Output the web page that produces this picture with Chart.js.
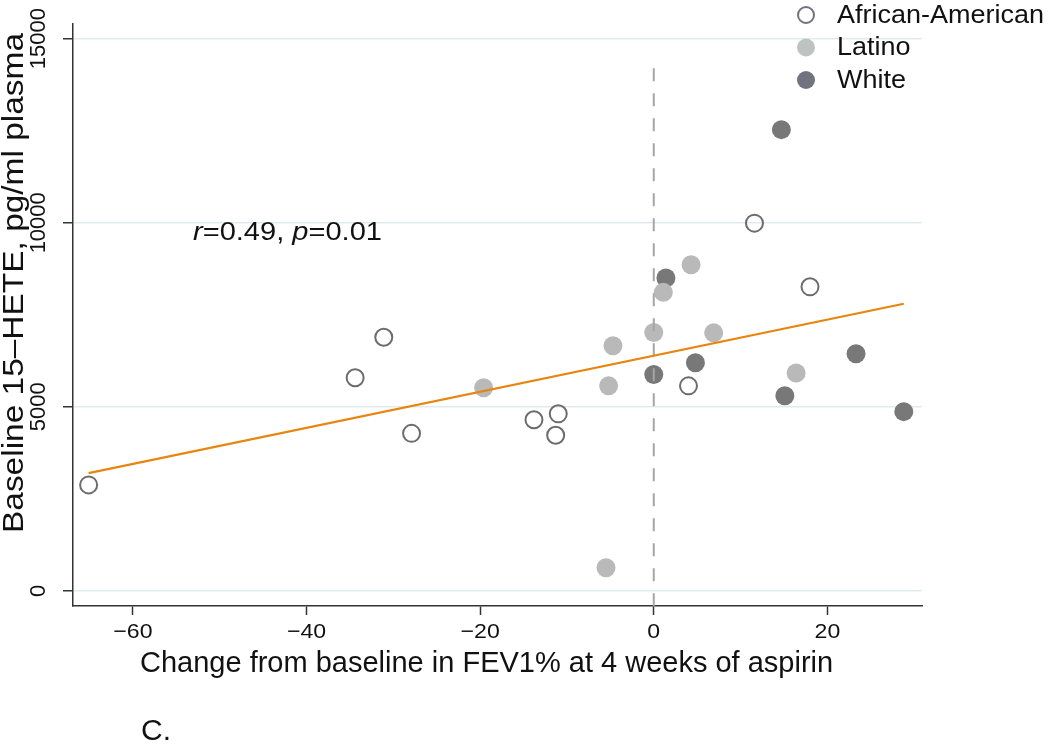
<!DOCTYPE html>
<html><head><meta charset="utf-8">
<script src="https://cdn.jsdelivr.net/npm/chart.js@4.4.1/dist/chart.umd.min.js"></script>
<style>html,body{margin:0;padding:0;background:#fff;}#wrap{width:1050px;height:749px;position:relative;}</style>
</head><body><div id="wrap"><canvas id="c" width="1050" height="749"></canvas></div>
<script>
// ---- data ----
const groupNames = ['African-American', 'Latino', 'White'];
const aaX = [-65.1, -34.4, -31.1, -27.9, -13.8, -11.0, -11.3, 4.0, 11.6, 18.0];
const aaY = [2880, 5790, 6890, 4280, 4650, 4810, 4230, 5570, 9990, 8260];
const latX = [-19.6, -5.5, -5.2, -4.7, 0.0, 1.1, 4.3, 6.9, 16.4];
const latY = [5520, 630, 5570, 6660, 7020, 8110, 8860, 7010, 5920];
const whX = [0.0, 1.4, 4.8, 14.7, 15.1, 23.3, 28.8];
const whY = [5880, 8500, 6200, 12530, 5300, 6440, 4870];
const fitX = [-65.1, 28.8];
const fitY = [3200, 7800];
const refX = [0, 0];
const refY = [14200, -450];
const xTicks = [-60, -40, -20, 0, 20];
const yTicks = [0, 5000, 10000, 15000];
const xTitle = 'Change from baseline in FEV1% at 4 weeks of aspirin';
const yTitle = 'Baseline 15\u2013HETE, pg/ml plasma';
const statR = '0.49', statP = '0.01';
const panelLabel = 'C.';

const FONT = '"Liberation Sans", Arial, Helvetica, sans-serif';
const pts = (xs, ys) => xs.map((x, i) => ({x, y: ys[i]}));
const colAA = '#6c6c6c', colLat = '#b9b9b9', colWh = '#787878';
const legAA = '#72737d', legLat = '#bdc3c1', legWh = '#6f7480';

function drawRun(ctx, parts, x, y, o = {}) {
  const {rot = 0, align = 'left', baseline = 'alphabetic', color = '#111', target = null, sx0 = 1} = o;
  ctx.save();
  ctx.translate(x, y);
  if (rot) ctx.rotate(rot);
  ctx.textBaseline = baseline; ctx.textAlign = 'left'; ctx.fillStyle = color;
  let total = 0;
  parts.forEach(p => { ctx.font = p.font; total += ctx.measureText(p.t).width; });
  const sx = target ? target / total : sx0;
  ctx.scale(sx, 1);
  let cx = align === 'center' ? -total / 2 : (align === 'right' ? -total : 0);
  parts.forEach(p => { ctx.font = p.font; ctx.fillText(p.t, cx, 0); cx += ctx.measureText(p.t).width; });
  ctx.restore();
}
const minus = v => String(v).replace('-', '\u2212');

const textLayer = {
  id: 'textLayer',
  afterDraw(chart) {
    const ctx = chart.ctx;
    const xs = chart.scales.x, ys = chart.scales.y;
    // y tick labels (rotated)
    ys.ticks.forEach(t => {
      drawRun(ctx, [{t: minus(t.value), font: '22px ' + FONT}], 45, ys.getPixelForValue(t.value), {rot: -Math.PI / 2, align: 'center'});
    });
    // x tick labels
    xs.ticks.forEach(t => {
      drawRun(ctx, [{t: minus(t.value), font: '21px ' + FONT}], xs.getPixelForValue(t.value), 638, {align: 'center', sx0: 1.1});
    });
    // axis titles
    drawRun(ctx, [{t: yTitle, font: '30px ' + FONT}], 23, 533, {rot: -Math.PI / 2, target: 500});
    drawRun(ctx, [{t: xTitle, font: '29px ' + FONT}], 140, 672, {});
    // statistic annotation
    drawRun(ctx, [
      {t: 'r', font: 'italic 26px ' + FONT},
      {t: '=' + statR + ', ', font: '26px ' + FONT},
      {t: 'p', font: 'italic 26px ' + FONT},
      {t: '=' + statP, font: '26px ' + FONT}
    ], 193, 240, {target: 189});
    // panel label
    drawRun(ctx, [{t: panelLabel, font: '30px ' + FONT}], 141, 740, {});
    // legend
    const rows = [
      {name: groupNames[0], fill: null, stroke: legAA},
      {name: groupNames[1], fill: legLat, stroke: legLat},
      {name: groupNames[2], fill: legWh, stroke: legWh}
    ];
    rows.forEach((r, i) => {
      const cy = 15 + i * 32.5;
      ctx.save();
      ctx.beginPath();
      ctx.arc(806, cy, r.fill ? 9 : 8, 0, Math.PI * 2);
      if (r.fill) { ctx.fillStyle = r.fill; ctx.fill(); }
      else { ctx.lineWidth = 2; ctx.strokeStyle = r.stroke; ctx.stroke(); }
      ctx.restore();
      drawRun(ctx, [{t: r.name, font: '25px ' + FONT}], 837, cy + 1, {baseline: 'middle', sx0: 1.08});
    });
  }
};

const gridCol = '#e1ebed', axisCol = '#333333';
new Chart(document.getElementById('c'), {
  type: 'scatter',
  data: {
    datasets: [
      {type: 'line', label: 'fit', data: pts(fitX, fitY), borderColor: '#e8850e', borderWidth: 2.2, pointRadius: 0, fill: false, tension: 0},
      {type: 'line', label: 'zero', data: pts(refX, refY), borderColor: '#a6a6a6', borderWidth: 2, borderDash: [13, 12], pointRadius: 0, fill: false},
      {label: groupNames[1], data: pts(latX, latY), backgroundColor: colLat, borderColor: colLat, borderWidth: 0, pointRadius: 9.5},
      {label: groupNames[2], data: pts(whX, whY), backgroundColor: colWh, borderColor: colWh, borderWidth: 0, pointRadius: 9.5},
      {label: groupNames[0], data: pts(aaX, aaY), backgroundColor: 'rgba(255,255,255,0)', borderColor: colAA, borderWidth: 2, pointRadius: 8.5}
    ]
  },
  options: {
    responsive: false, animation: false, devicePixelRatio: 1,
    layout: {padding: {left: 0, right: 128, top: 24, bottom: 0}},
    plugins: {legend: {display: false}, tooltip: {enabled: false}},
    scales: {
      x: {
        type: 'linear', min: -66.9, max: 30.9,
        afterBuildTicks: s => { s.ticks = xTicks.map(v => ({value: v})); },
        afterFit: s => { s.height = 143; },
        ticks: {display: false},
        grid: {drawOnChartArea: false, drawTicks: true, tickLength: 9, tickColor: axisCol, tickWidth: 1.5},
        border: {display: true, color: axisCol, width: 1.5}
      },
      y: {
        type: 'linear', min: -410, max: 15400,
        afterBuildTicks: s => { s.ticks = yTicks.map(v => ({value: v})); },
        afterFit: s => { s.width = 73; },
        ticks: {display: false},
        grid: {color: gridCol, lineWidth: 1.5, drawTicks: true, tickLength: 10, tickColor: axisCol, tickWidth: 1.5},
        border: {display: true, color: axisCol, width: 1.5}
      }
    }
  },
  plugins: [textLayer]
});
</script></body></html>
